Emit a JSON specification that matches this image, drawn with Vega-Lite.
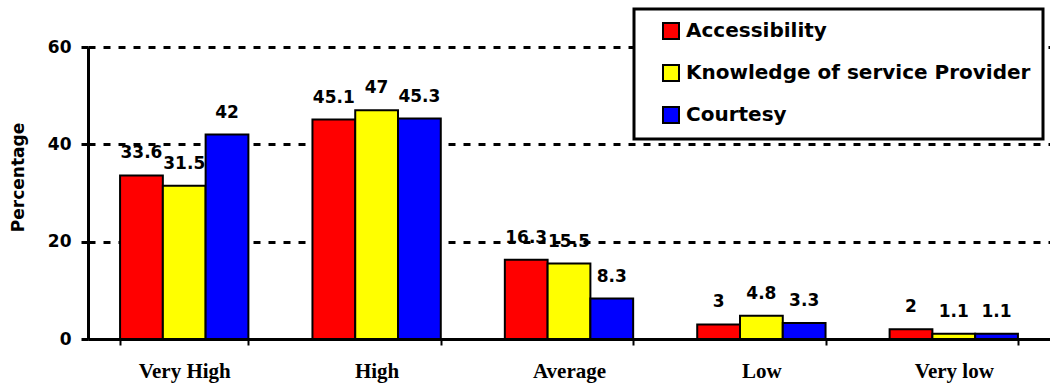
{
  "$schema": "https://vega.github.io/schema/vega-lite/v6.json",
  "width": 962,
  "height": 292,
  "autosize": {"type": "none"},
  "padding": {"left": 88, "top": 47, "right": 0, "bottom": 46},
  "background": "white",
  "config": {"view": {"stroke": null}, "legend": {"strokeWidth": 3, "strokeColor": "black", "fillColor": "white"}},
  "data": {
    "values": [
      {"level": "Very High", "aspect": "Accessibility", "pct": 33.6},
      {"level": "Very High", "aspect": "Knowledge of service Provider", "pct": 31.5},
      {"level": "Very High", "aspect": "Courtesy", "pct": 42},
      {"level": "High", "aspect": "Accessibility", "pct": 45.1},
      {"level": "High", "aspect": "Knowledge of service Provider", "pct": 47},
      {"level": "High", "aspect": "Courtesy", "pct": 45.3},
      {"level": "Average", "aspect": "Accessibility", "pct": 16.3},
      {"level": "Average", "aspect": "Knowledge of service Provider", "pct": 15.5},
      {"level": "Average", "aspect": "Courtesy", "pct": 8.3},
      {"level": "Low", "aspect": "Accessibility", "pct": 3},
      {"level": "Low", "aspect": "Knowledge of service Provider", "pct": 4.8},
      {"level": "Low", "aspect": "Courtesy", "pct": 3.3},
      {"level": "Very low", "aspect": "Accessibility", "pct": 2},
      {"level": "Very low", "aspect": "Knowledge of service Provider", "pct": 1.1},
      {"level": "Very low", "aspect": "Courtesy", "pct": 1.1}
    ]
  },
  "encoding": {
    "x": {
      "field": "level",
      "type": "nominal",
      "sort": ["Very High", "High", "Average", "Low", "Very low"],
      "scale": {"paddingInner": 0.333, "paddingOuter": 0.1667},
      "axis": {
        "title": null,
        "labelAngle": 0,
        "labelFont": "Liberation Serif",
        "labelFontWeight": "bold",
        "labelFontSize": 21,
        "labelColor": "black",
        "labelPadding": 15,
        "tickBand": "extent",
        "tickColor": "black",
        "tickWidth": 2,
        "tickSize": 6,
        "domainColor": "black",
        "domainWidth": 3,
        "grid": false
      }
    },
    "xOffset": {
      "field": "aspect",
      "type": "nominal",
      "sort": ["Accessibility", "Knowledge of service Provider", "Courtesy"],
      "scale": {"paddingInner": 0, "paddingOuter": 0}
    },
    "y": {
      "field": "pct",
      "type": "quantitative",
      "scale": {"domain": [0, 60], "nice": false},
      "axis": {
        "title": "Percentage",
        "titleFont": "DejaVu Sans",
        "titleFontSize": 17,
        "titleFontWeight": "bold",
        "titleColor": "black",
        "titleX": -70,
        "titleY": 130,
        "titleAngle": -90,
        "titleAlign": "center",
        "titleBaseline": "middle",
        "values": [0, 20, 40, 60],
        "labelFont": "DejaVu Sans",
        "labelFontWeight": "bold",
        "labelFontSize": 17,
        "labelColor": "black",
        "labelPadding": 10,
        "tickSize": 7,
        "tickColor": "black",
        "tickWidth": 3,
        "domainColor": "black",
        "domainWidth": 3,
        "grid": true,
        "gridColor": "black",
        "gridDash": [7, 8],
        "gridWidth": 3,
        "gridOpacity": 1
      }
    }
  },
  "layer": [
    {
      "mark": {"type": "bar", "stroke": "black", "strokeWidth": 2},
      "encoding": {
        "color": {
          "field": "aspect",
          "type": "nominal",
          "sort": ["Accessibility", "Knowledge of service Provider", "Courtesy"],
          "scale": {
            "domain": ["Accessibility", "Knowledge of service Provider", "Courtesy"],
            "range": ["#ff0000", "#ffff00", "#0000ff"]
          },
          "legend": {
            "orient": "none",
            "legendX": 546,
            "legendY": -38,
            "title": null,
            "padding": 12,
            "symbolOffset": 15,
            "symbolType": "square",
            "symbolSize": 256,
            "symbolStrokeColor": "black",
            "symbolStrokeWidth": 2,
            "symbolOpacity": 1,
            "labelFont": "DejaVu Sans",
            "labelFontWeight": "bold",
            "labelFontSize": 20,
            "labelColor": "black",
            "labelLimit": 600,
            "labelOffset": 5,
            "rowPadding": 18
          }
        }
      }
    },
    {
      "mark": {
        "type": "text",
        "dy": -17,
        "baseline": "alphabetic",
        "font": "DejaVu Sans",
        "fontWeight": "bold",
        "fontSize": 17,
        "color": "black"
      },
      "encoding": {
        "text": {"field": "pct", "type": "nominal"}
      }
    }
  ]
}
